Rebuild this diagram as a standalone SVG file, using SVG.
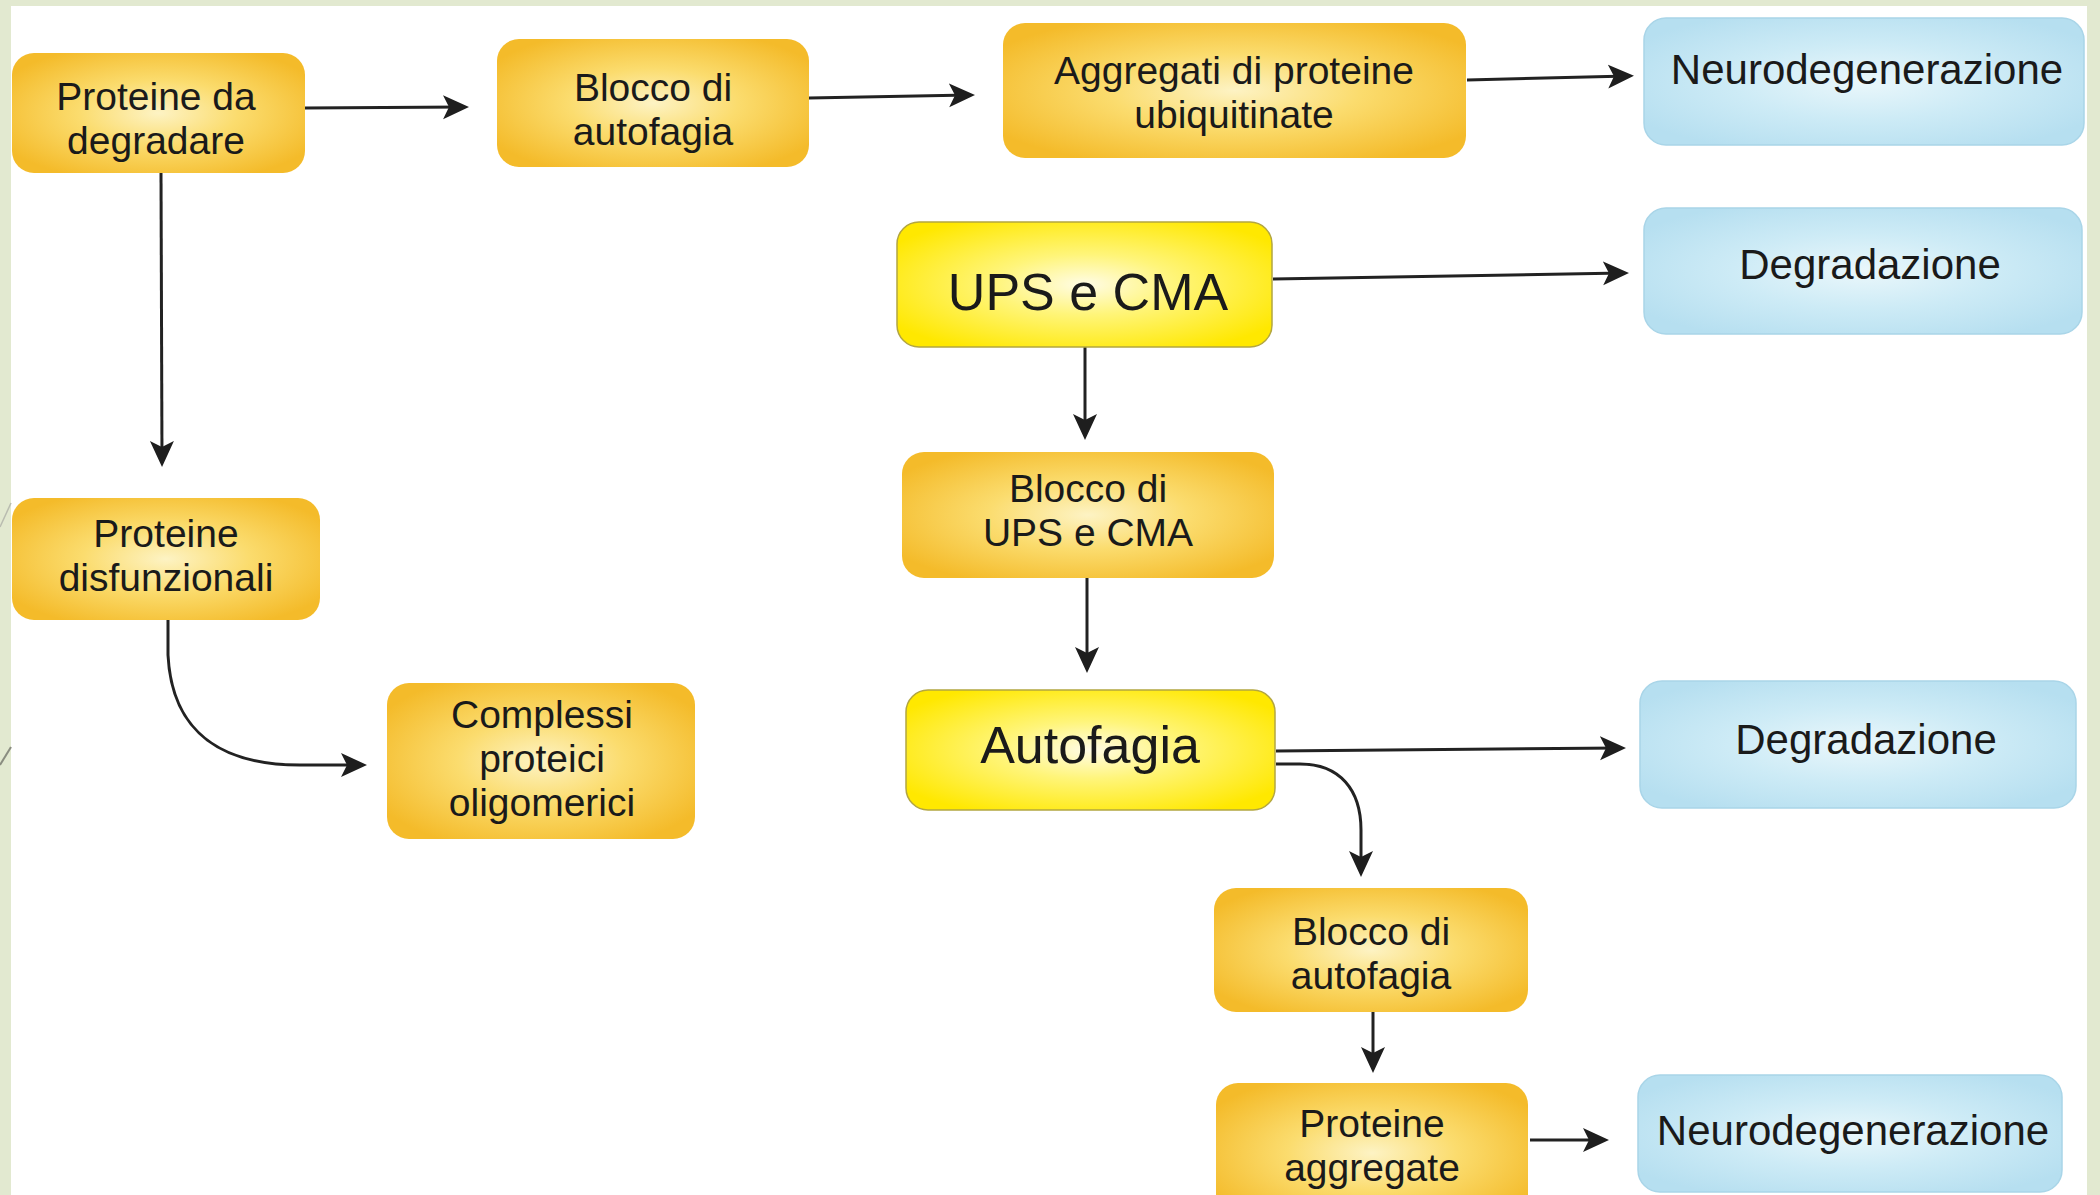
<svg xmlns="http://www.w3.org/2000/svg" width="2100" height="1195" viewBox="0 0 2100 1195">
<defs>
<radialGradient id="gO" cx="50%" cy="50%" r="60%">
<stop offset="0" stop-color="#fdf3c4"/>
<stop offset="0.45" stop-color="#fbdc6e"/>
<stop offset="1" stop-color="#f4bb2a"/>
</radialGradient>
<radialGradient id="gY" cx="50%" cy="50%" r="60%">
<stop offset="0" stop-color="#fffce6"/>
<stop offset="0.4" stop-color="#fff57a"/>
<stop offset="1" stop-color="#ffe800"/>
</radialGradient>
<radialGradient id="gB" cx="50%" cy="50%" r="60%">
<stop offset="0" stop-color="#eaf7fb"/>
<stop offset="0.5" stop-color="#cdebf6"/>
<stop offset="1" stop-color="#b6dff0"/>
</radialGradient>
<marker id="ah" markerUnits="userSpaceOnUse" markerWidth="30" markerHeight="26" refX="20" refY="12" orient="auto">
<path d="M0,0 L26,12 L0,24 L6,12 z" fill="#1e1e1e"/>
</marker>
<style>
.o{fill:url(#gO);}
.y{fill:url(#gY);stroke:#b3a640;stroke-width:1.5;}
.b{fill:url(#gB);stroke:#a9d5e8;stroke-width:1.5;}
.t{font-family:"Liberation Sans",Arial,sans-serif;font-size:39px;fill:#1a1a1a;text-anchor:middle;}
.ts{font-family:"Liberation Sans",Arial,sans-serif;font-size:42px;fill:#1a1a1a;text-anchor:middle;}
.tl{font-family:"Liberation Sans",Arial,sans-serif;font-size:52px;fill:#1a1a1a;text-anchor:middle;}
.c{fill:none;stroke:#222;stroke-width:3;marker-end:url(#ah);}
</style>
</defs>
<rect x="0" y="0" width="2100" height="1195" fill="#ffffff"/>
<rect x="0" y="0" width="2100" height="6" fill="#e2e9d0"/>
<rect x="0" y="0" width="11" height="1195" fill="#e2e9d0"/>
<rect x="2087" y="0" width="13" height="1195" fill="#e2e9d0"/>
<line x1="0" y1="527" x2="11" y2="503" stroke="#b9bcb0" stroke-width="1.5"/>
<line x1="0" y1="765" x2="11" y2="747" stroke="#8a8d80" stroke-width="2"/>

<g id="connectors">
<path class="c" d="M305,108 L463,107"/>
<path class="c" d="M809,98 L969,95"/>
<path class="c" d="M1467,80 L1628,76"/>
<path class="c" d="M1273,279 L1623,273"/>
<path class="c" d="M161,173 L162,461"/>
<path class="c" d="M1085,347 L1085,434"/>
<path class="c" d="M1087,578 L1087,667"/>
<path class="c" d="M1276,751 L1620,748"/>
<path class="c" d="M1276,764 L1300,764 C1340,764 1361,790 1361,830 L1361,871"/>
<path class="c" d="M1373,1012 L1373,1067"/>
<path class="c" d="M1530,1140 L1603,1140"/>
<path class="c" d="M168,620 L168,655 C172,735 225,765 300,765 L361,765"/>
</g>

<g id="n1"><rect class="o" x="12" y="53" width="293" height="120" rx="22"/>
<text class="t" x="156" y="110">Proteine da<tspan x="156" dy="44">degradare</tspan></text></g>

<g id="n2"><rect class="o" x="497" y="39" width="312" height="128" rx="22"/>
<text class="t" x="653" y="101">Blocco di<tspan x="653" dy="44">autofagia</tspan></text></g>

<g id="n3"><rect class="o" x="1003" y="23" width="463" height="135" rx="22"/>
<text class="t" x="1234" y="84">Aggregati di proteine<tspan x="1234" dy="44">ubiquitinate</tspan></text></g>

<g id="n4"><rect class="b" x="1644" y="18" width="440" height="127" rx="22"/>
<text class="ts" x="1867" y="84">Neurodegenerazione</text></g>

<g id="n5"><rect class="y" x="897" y="222" width="375" height="125" rx="22"/>
<text class="tl" x="1088" y="310">UPS e CMA</text></g>

<g id="n6"><rect class="b" x="1644" y="208" width="438" height="126" rx="22"/>
<text class="ts" x="1870" y="279">Degradazione</text></g>

<g id="n7"><rect class="o" x="902" y="452" width="372" height="126" rx="22"/>
<text class="t" x="1088" y="502">Blocco di<tspan x="1088" dy="44">UPS e CMA</tspan></text></g>

<g id="n8"><rect class="y" x="906" y="690" width="369" height="120" rx="22"/>
<text class="tl" x="1090" y="763">Autofagia</text></g>

<g id="n9"><rect class="b" x="1640" y="681" width="436" height="127" rx="22"/>
<text class="ts" x="1866" y="754">Degradazione</text></g>

<g id="n10"><rect class="o" x="1214" y="888" width="314" height="124" rx="22"/>
<text class="t" x="1371" y="945">Blocco di<tspan x="1371" dy="44">autofagia</tspan></text></g>

<g id="n11"><rect class="o" x="1216" y="1083" width="312" height="140" rx="22"/>
<text class="t" x="1372" y="1137">Proteine<tspan x="1372" dy="44">aggregate</tspan></text></g>

<g id="n12"><rect class="b" x="1638" y="1075" width="424" height="117" rx="22"/>
<text class="ts" x="1853" y="1145">Neurodegenerazione</text></g>

<g id="n13"><rect class="o" x="12" y="498" width="308" height="122" rx="22"/>
<text class="t" x="166" y="547">Proteine<tspan x="166" dy="44">disfunzionali</tspan></text></g>

<g id="n14"><rect class="o" x="387" y="683" width="308" height="156" rx="22"/>
<text class="t" x="542" y="728">Complessi<tspan x="542" dy="44">proteici</tspan><tspan x="542" dy="44">oligomerici</tspan></text></g>
</svg>
